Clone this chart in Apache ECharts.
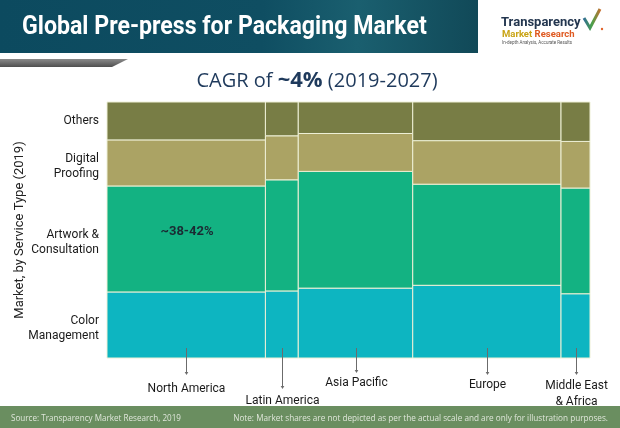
<!DOCTYPE html>
<html>
<head>
<meta charset="utf-8">
<script src="https://cdn.jsdelivr.net/npm/echarts@6/dist/echarts.min.js"></script>
<style>
html,body{margin:0;padding:0;background:#fff;}
#chart{width:620px;height:428px;}
</style>
</head>
<body>
<div id="chart"></div>
<script>
// ---- data ----
const regions = ['North America', 'Latin America', 'Asia Pacific', 'Europe', 'Middle East\n& Africa'];
const regionShare = [32.8, 6.8, 23.7, 30.7, 6.0];
const services = ['Color\nManagement', 'Artwork &\nConsultation', 'Digital\nProofing', 'Others'];
const colorManagement = [25.8, 26.2, 27.3, 28.4, 25.1];
const artworkConsultation = [41.4, 43.4, 45.6, 39.5, 41.3];
const digitalProofing = [18.0, 17.2, 14.8, 17.0, 18.2];
const others = [14.8, 13.2, 12.3, 15.1, 15.4];
const highlightLabel = '~38-42%';

// ---- styles / layout ----
const serviceColors = ['#0db5c1', '#13b282', '#aba364', '#787d45'];
const tickLen = [16, 30, 14, 16, 16];
const labelTop = [23, 35, 17, 19, 20];
const FONT = 'Roboto';

const serviceValues = [colorManagement, artworkConsultation, digitalProofing, others];

// build mosaic cells
const cells = [];
const centers = [];
let x0 = 0;
regionShare.forEach((w, ri) => {
  let y0 = 0;
  serviceValues.forEach((arr, si) => {
    cells.push([x0, x0 + w, y0, y0 + arr[ri], si, ri]);
    y0 += arr[ri];
  });
  centers.push([x0 + w / 2, ri]);
  x0 += w;
});

const chart = echarts.init(document.getElementById('chart'));
chart.setOption({
  animation: false,
  grid: { left: 107, right: 30, top: 102, bottom: 70 },
  xAxis: { type: 'value', min: 0, max: 100, show: false },
  yAxis: {
    type: 'value', min: 0, max: 100,
    name: 'Market, by Service Type (2019)',
    nameLocation: 'middle', nameRotate: 90, nameGap: 81,
    nameTextStyle: { fontFamily: FONT, fontSize: 13, color: '#222' },
    axisLine: { show: false }, axisTick: { show: false },
    axisLabel: { show: false }, splitLine: { show: false }
  },
  series: [
    {
      type: 'custom',
      data: cells,
      renderItem: function (params, api) {
        const a = api.coord([api.value(0), api.value(2)]);
        const b = api.coord([api.value(1), api.value(3)]);
        const si = api.value(4), ri = api.value(5);
        const children = [{
          type: 'rect',
          shape: { x: a[0], y: b[1], width: b[0] - a[0], height: a[1] - b[1] },
          style: { fill: serviceColors[si], stroke: '#eef0d6', lineWidth: 1 }
        }];
        if (ri === 0) {
          const cy = (a[1] + b[1]) / 2;
          const multi = services[si].indexOf('\n') >= 0;
          children.push({
            type: 'text',
            x: a[0] - 8, y: cy + (multi ? 4 : 0),
            style: {
              text: services[si], fill: '#1a1a1a', font: '12px ' + FONT,
              align: 'right', verticalAlign: 'middle', lineHeight: 15
            }
          });
          if (si === 1) {
            children.push({
              type: 'text',
              x: a[0] + 80, y: cy - 7,
              style: {
                text: highlightLabel, fill: '#1b2a33', font: 'bold 13px ' + FONT,
                align: 'center', verticalAlign: 'middle'
              }
            });
          }
        }
        return { type: 'group', children: children };
      }
    },
    {
      type: 'custom',
      data: centers,
      renderItem: function (params, api) {
        const ri = api.value(1);
        const p = api.coord([api.value(0), 0]);
        const x = Math.round(p[0]) + 0.5;
        const yb = p[1];
        const yEnd = yb + tickLen[ri];
        return {
          type: 'group',
          children: [
            { type: 'line', shape: { x1: x, y1: yb - 10, x2: x, y2: yEnd },
              style: { stroke: '#6b6b6b', lineWidth: 1 } },
            { type: 'polygon', shape: { points: [[x - 1.8, yEnd - 2], [x + 1.8, yEnd - 2], [x, yEnd + 1]] },
              style: { fill: '#6b6b6b' } },
            { type: 'text', x: x, y: yb + labelTop[ri],
              style: { text: regions[ri], fill: '#1a1a1a', font: '12px ' + FONT,
                align: 'center', verticalAlign: 'top', lineHeight: 16 } }
          ]
        };
      }
    }
  ],
  graphic: [
    { type: 'rect', shape: { x: 0, y: 0, width: 478, height: 53 },
      style: { fill: new echarts.graphic.LinearGradient(0, 0, 1, 0.3, [
        { offset: 0, color: '#0c4a5f' }, { offset: 0.55, color: '#0f4e62' },
        { offset: 0.75, color: '#1a5f6f' }, { offset: 1, color: '#114958' }]) } },
    { type: 'polygon', shape: { points: [[0, 59], [128, 59], [112, 67], [0, 67]] },
      style: { fill: new echarts.graphic.LinearGradient(0, 0, 0, 1, [
        { offset: 0, color: '#8a8a8a' }, { offset: 1, color: '#4f4f4f' }]) } },
    { type: 'text', x: 22, y: 27, scaleX: 0.89, originX: 0, originY: 0,
      style: { text: 'Global Pre-press for Packaging Market', fill: '#ffffff',
        font: 'bold 26px ' + FONT, verticalAlign: 'middle', align: 'left' } },
    // logo
    { type: 'text', x: 501, y: 23,
      style: { text: 'Transparency', fill: '#23364f', font: 'bold 13px ' + FONT,
        verticalAlign: 'middle', align: 'left' } },
    { type: 'text', x: 502, y: 35,
      style: { text: '{a|Market }{b|Research}', verticalAlign: 'middle', align: 'left',
        rich: { a: { fill: '#c9a415', font: 'bold 9.5px ' + FONT },
                b: { fill: '#df5a22', font: 'bold 9.5px ' + FONT } } } },
    { type: 'text', x: 502, y: 43,
      style: { text: 'In-depth Analysis, Accurate Results', fill: '#555', font: '4.5px ' + FONT,
        verticalAlign: 'middle', align: 'left' } },
    { type: 'polyline', shape: { points: [[584, 18], [590, 28], [600, 9]] },
      style: { stroke: new echarts.graphic.LinearGradient(0, 0, 1, 0, [
        { offset: 0, color: '#2b5fa8' }, { offset: 0.5, color: '#4aa24a' }, { offset: 1, color: '#e2632a' }]),
        lineWidth: 3, fill: null } },
    { type: 'circle', shape: { cx: 602, cy: 29, r: 1.2 }, style: { fill: '#e2632a' } },
    // CAGR
    { type: 'text', x: 317, y: 81,
      style: { text: '{n|CAGR of }{b|~4%}{n| (2019-2027)}', align: 'center', verticalAlign: 'middle',
        rich: { n: { fill: '#1f3a5c', font: '20px "Open Sans"' },
                b: { fill: '#1f3a5c', font: 'bold 22px "Open Sans"' } } } },
    // footer
    { type: 'rect', shape: { x: 0, y: 406, width: 620, height: 22 }, style: { fill: '#6a8e60' } },
    { type: 'text', x: 11, y: 418, scaleX: 0.9, originX: 0, originY: 0,
      style: { text: 'Source: Transparency Market Research, 2019', fill: '#dfe6da',
        font: '9px "Open Sans"', verticalAlign: 'middle', align: 'left' } },
    { type: 'text', x: 608, y: 418, scaleX: 0.91, originX: 0, originY: 0,
      style: { text: 'Note: Market shares are not depicted as per the actual scale and are only for illustration purposes.',
        fill: '#dfe6da', font: '9px "Open Sans"', verticalAlign: 'middle', align: 'right' } }
  ]
});
</script>
</body>
</html>
